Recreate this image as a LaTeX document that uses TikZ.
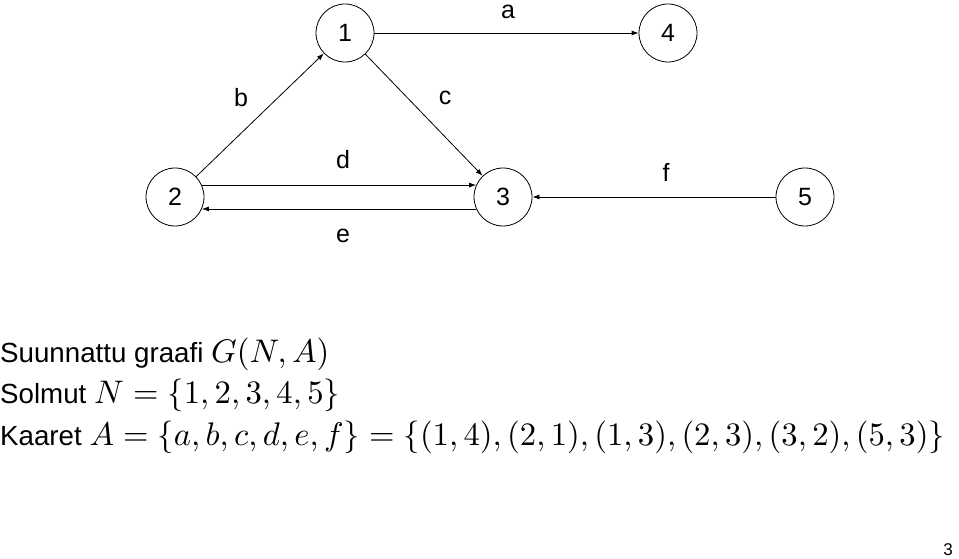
\documentclass[tikz,border=0pt]{standalone}
\usepackage{graphicx}
\usepackage[no-math]{fontspec}
\setmainfont{Liberation Sans}
\usetikzlibrary{arrows.meta}
\newcommand{\bigline}[1]{\scalebox{2.77}{#1}}
\newcommand{\mth}[1]{\scalebox{1.18}{$#1$}}
\tikzset{
  vert/.style = {draw, circle, minimum size=58pt, inner sep=0pt,
                 line width=0.8pt, font=\fontsize{25}{30}\selectfont},
  lbl/.style  = {font=\fontsize{25}{30}\selectfont, inner sep=0pt},
  txt/.style  = {anchor=base west, inner sep=0pt},
  ar/.style   = {-{Latex[length=7pt,width=5pt]}, line width=0.8pt}
}
\begin{document}
\begin{tikzpicture}[x=1pt, y=-1pt]
  \useasboundingbox (0,0) rectangle (959,559);
  % vertices
  \node[vert] (n1) at (345,33)  {1};
  \node[vert] (n4) at (668,33)  {4};
  \node[vert] (n2) at (175,197) {2};
  \node[vert] (n3) at (503,197) {3};
  \node[vert] (n5) at (805,197) {5};
  % arcs
  \draw[ar] (n1) -- (n4);
  \draw[ar] (n2) -- (n1);
  \draw[ar] (n1) -- (n3);
  \draw[ar] (n2.{24}) -- (n3.{156});
  \draw[ar] (n3.{-156}) -- (n2.{-24});
  \draw[ar] (n5) -- (n3);
  % arc labels
  \node[lbl] (la) at (508,12)  {a};
  \node[lbl] (lb) at (241,98)  {b};
  \node[lbl] (lc) at (445,98)  {c};
  \node[lbl] (ld) at (343,160) {d};
  \node[lbl] (le) at (343,236) {e};
  \node[lbl] (lf) at (666,172) {f};
  % definitions
  \node[txt] (t1) at (0,362) {\bigline{Suunnattu graafi \mth{G(N,A)}}};
  \node[txt] (t2) at (0,403) {\bigline{Solmut \mth{N=\{1,2,3,4,5\}}}};
  \node[txt] (t3) at (0,445) {\bigline{Kaaret \mth{A=\{a,b,c,d,e,f\}=\{(1,4),(2,1),(1,3),(2,3),(3,2),(5,3)\}}}};
  \node[anchor=base east, inner sep=0pt, font=\fontsize{17}{20}\selectfont] (pg) at (953,555) {3};
\end{tikzpicture}
\end{document}
